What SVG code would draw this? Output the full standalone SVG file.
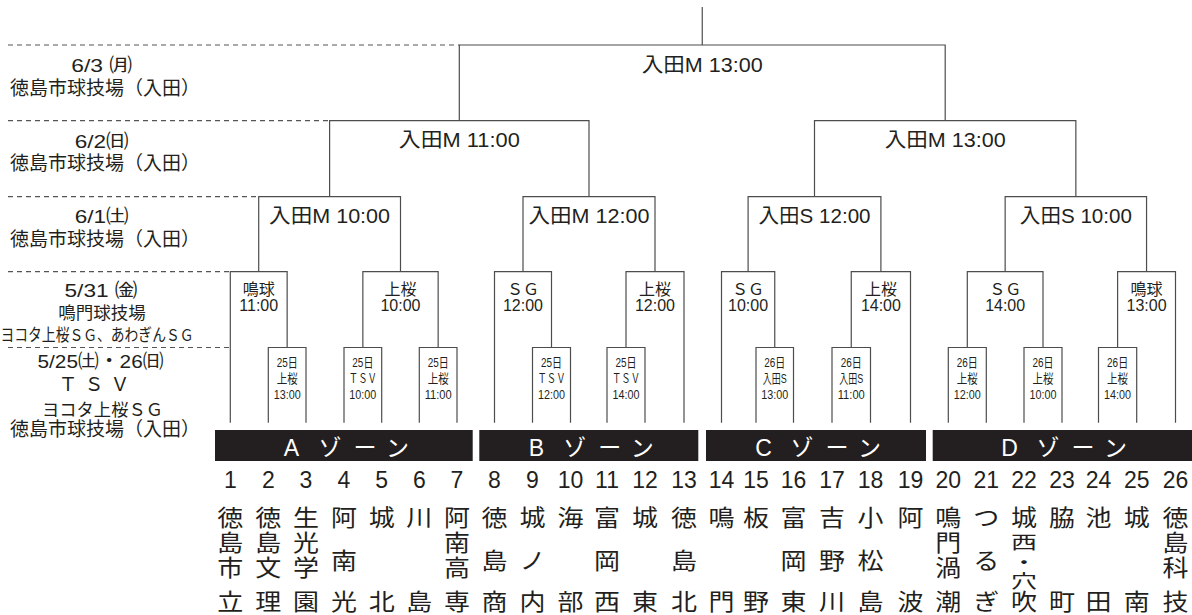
<svg xmlns="http://www.w3.org/2000/svg" width="1192" height="615" viewBox="0 0 1192 615">
<style>
.ln{fill:none;stroke:#4d4d4d;stroke-width:1.2}
.dash{fill:none;stroke:#555;stroke-width:1.2;stroke-dasharray:5 4}
.t{font-family:"Liberation Sans","Noto Sans CJK JP",sans-serif;fill:#231f20;text-anchor:middle}
.s{font-size:13px}
.m{font-size:16px}
.l{font-size:20.5px}
.side{font-size:19px}
.num{font-size:23px}
.zone{fill:#231f20}
.zt{font-family:"Liberation Sans","Noto Sans CJK JP",sans-serif;fill:#fff;font-size:23px;text-anchor:middle}
.nm{font-family:"Noto Sans CJK JP",sans-serif;font-size:26px;fill:#231f20;text-anchor:middle}
</style>
<rect width="1192" height="615" fill="#fff"/>

<g id="guides">
<path class="dash" d="M8,45H459.3M8,120.7H329.6M8,196.7H258.7M8,271.7H230.3M8,347.5H230.3"/>
</g>

<g id="day-labels">
<text class="t side" x="101.7" y="71.5" textLength="61" lengthAdjust="spacingAndGlyphs">6/3 ㈪</text>
<text class="t side" x="10" y="94.5" style="text-anchor:start">徳島市球技場（入田）</text>
<text class="t side" x="101.7" y="148" textLength="54" lengthAdjust="spacingAndGlyphs">6/2㈰</text>
<text class="t side" x="10" y="169.5" style="text-anchor:start">徳島市球技場（入田）</text>
<text class="t side" x="101.7" y="223" textLength="54" lengthAdjust="spacingAndGlyphs">6/1㈯</text>
<text class="t side" x="10" y="246" style="text-anchor:start">徳島市球技場（入田）</text>
<text class="t side" x="101" y="296.5" textLength="73" lengthAdjust="spacingAndGlyphs">5/31 ㈮</text>
<text class="t" x="102" y="319" style="font-size:17.5px">鳴門球技場</text>
<text class="t" x="0.5" y="341" style="font-size:16.5px;text-anchor:start" textLength="193" lengthAdjust="spacingAndGlyphs">ヨコタ上桜ＳＧ、あわぎんＳＧ</text>
<text class="t side" x="100.5" y="367.5" textLength="126" lengthAdjust="spacingAndGlyphs">5/25㈯・26㈰</text>
<text class="t side" x="94" y="391" textLength="71" lengthAdjust="spacing">ＴＳＶ</text>
<text class="t" x="102.5" y="416" style="font-size:17.5px" textLength="121" lengthAdjust="spacingAndGlyphs">ヨコタ上桜ＳＧ</text>
<text class="t side" x="10" y="436" style="text-anchor:start">徳島市球技場（入田）</text>
</g>

<g id="connectors">
<path class="ln" d="M702.25,7V45"/>
<path class="ln" d="M459.3,120.7V45H945.2V120.7"/>
<path class="ln" d="M329.6,196.7V120.7H589V196.7"/>
<path class="ln" d="M814.5,196.7V120.7H1075.85V196.7"/>
<path class="ln" d="M258.7,271.7V196.7H400.5V271.7"/>
<path class="ln" d="M523,271.7V196.7H655V271.7"/>
<path class="ln" d="M748.1,271.7V196.7H880.9V271.7"/>
<path class="ln" d="M1005.15,271.7V196.7H1146.55V271.7"/>
<path class="ln" d="M230.3,422.7V271.7H287.15V347.5"/>
<path class="ln" d="M362.85,347.5V271.7H438.15V347.5"/>
<path class="ln" d="M494.5,422.7V271.7H551.5V347.5"/>
<path class="ln" d="M626,347.5V271.7H684V422.7"/>
<path class="ln" d="M721.5,422.7V271.7H774.75V347.5"/>
<path class="ln" d="M851.25,347.5V271.7H910.5V422.7"/>
<path class="ln" d="M967.3,347.5V271.7H1043V347.5"/>
<path class="ln" d="M1117.6,347.5V271.7H1175.5V422.7"/>
<path class="ln" d="M268.3,422.7V347.5H306V422.7"/>
<path class="ln" d="M344,422.7V347.5H381.7V422.7"/>
<path class="ln" d="M419.3,422.7V347.5H457V422.7"/>
<path class="ln" d="M532.5,422.7V347.5H570.5V422.7"/>
<path class="ln" d="M607,422.7V347.5H645V422.7"/>
<path class="ln" d="M756,422.7V347.5H793.5V422.7"/>
<path class="ln" d="M832,422.7V347.5H870.5V422.7"/>
<path class="ln" d="M948.3,422.7V347.5H986.3V422.7"/>
<path class="ln" d="M1024,422.7V347.5H1062V422.7"/>
<path class="ln" d="M1098.5,422.7V347.5H1136.7V422.7"/>
</g>

<g id="final"><text class="t l" x="702.25" y="71.5" textLength="121" lengthAdjust="spacingAndGlyphs">入田M 13:00</text></g>
<g id="semi-1"><text class="t l" x="459.3" y="146.5" textLength="121" lengthAdjust="spacingAndGlyphs">入田M 11:00</text></g>
<g id="semi-2"><text class="t l" x="945.2" y="146.5" textLength="121" lengthAdjust="spacingAndGlyphs">入田M 13:00</text></g>
<g id="qf-a"><text class="t l" x="329.6" y="223" textLength="121" lengthAdjust="spacingAndGlyphs">入田M 10:00</text></g>
<g id="qf-b"><text class="t l" x="589" y="223" textLength="121" lengthAdjust="spacingAndGlyphs">入田M 12:00</text></g>
<g id="qf-c"><text class="t l" x="814.5" y="223" textLength="112" lengthAdjust="spacingAndGlyphs">入田S 12:00</text></g>
<g id="qf-d"><text class="t l" x="1075.85" y="223" textLength="112" lengthAdjust="spacingAndGlyphs">入田S 10:00</text></g>

<g id="r2-a1"><text class="t m" x="258.7" y="295">鳴球</text><text class="t m" x="258.7" y="311">11:00</text></g>
<g id="r2-a2"><text class="t m" x="400.5" y="295">上桜</text><text class="t m" x="400.5" y="311">10:00</text></g>
<g id="r2-b1"><text class="t m" x="523" y="295">ＳＧ</text><text class="t m" x="523" y="311">12:00</text></g>
<g id="r2-b2"><text class="t m" x="655" y="295">上桜</text><text class="t m" x="655" y="311">12:00</text></g>
<g id="r2-c1"><text class="t m" x="748.1" y="295">ＳＧ</text><text class="t m" x="748.1" y="311">10:00</text></g>
<g id="r2-c2"><text class="t m" x="880.9" y="295">上桜</text><text class="t m" x="880.9" y="311">14:00</text></g>
<g id="r2-d1"><text class="t m" x="1005.15" y="295">ＳＧ</text><text class="t m" x="1005.15" y="311">14:00</text></g>
<g id="r2-d2"><text class="t m" x="1146.55" y="295">鳴球</text><text class="t m" x="1146.55" y="311">13:00</text></g>

<g id="r1-a1"><text class="t s" x="287.15" y="367" textLength="21" lengthAdjust="spacingAndGlyphs">25日</text><text class="t s" x="287.15" y="383" textLength="21" lengthAdjust="spacingAndGlyphs">上桜</text><text class="t s" x="287.15" y="399" textLength="27" lengthAdjust="spacingAndGlyphs">13:00</text></g>
<g id="r1-a2"><text class="t s" x="362.85" y="367" textLength="21" lengthAdjust="spacingAndGlyphs">25日</text><text class="t s" x="362.85" y="383" textLength="28" lengthAdjust="spacingAndGlyphs">ＴＳＶ</text><text class="t s" x="362.85" y="399" textLength="27" lengthAdjust="spacingAndGlyphs">10:00</text></g>
<g id="r1-a3"><text class="t s" x="438.15" y="367" textLength="21" lengthAdjust="spacingAndGlyphs">25日</text><text class="t s" x="438.15" y="383" textLength="21" lengthAdjust="spacingAndGlyphs">上桜</text><text class="t s" x="438.15" y="399" textLength="27" lengthAdjust="spacingAndGlyphs">11:00</text></g>
<g id="r1-b1"><text class="t s" x="551.5" y="367" textLength="21" lengthAdjust="spacingAndGlyphs">25日</text><text class="t s" x="551.5" y="383" textLength="28" lengthAdjust="spacingAndGlyphs">ＴＳＶ</text><text class="t s" x="551.5" y="399" textLength="27" lengthAdjust="spacingAndGlyphs">12:00</text></g>
<g id="r1-b2"><text class="t s" x="626" y="367" textLength="21" lengthAdjust="spacingAndGlyphs">25日</text><text class="t s" x="626" y="383" textLength="28" lengthAdjust="spacingAndGlyphs">ＴＳＶ</text><text class="t s" x="626" y="399" textLength="27" lengthAdjust="spacingAndGlyphs">14:00</text></g>
<g id="r1-c1"><text class="t s" x="774.75" y="367" textLength="21" lengthAdjust="spacingAndGlyphs">26日</text><text class="t s" x="774.75" y="383" textLength="24" lengthAdjust="spacingAndGlyphs">入田S</text><text class="t s" x="774.75" y="399" textLength="27" lengthAdjust="spacingAndGlyphs">13:00</text></g>
<g id="r1-c2"><text class="t s" x="851.25" y="367" textLength="21" lengthAdjust="spacingAndGlyphs">26日</text><text class="t s" x="851.25" y="383" textLength="24" lengthAdjust="spacingAndGlyphs">入田S</text><text class="t s" x="851.25" y="399" textLength="27" lengthAdjust="spacingAndGlyphs">11:00</text></g>
<g id="r1-d1"><text class="t s" x="967.3" y="367" textLength="21" lengthAdjust="spacingAndGlyphs">26日</text><text class="t s" x="967.3" y="383" textLength="21" lengthAdjust="spacingAndGlyphs">上桜</text><text class="t s" x="967.3" y="399" textLength="27" lengthAdjust="spacingAndGlyphs">12:00</text></g>
<g id="r1-d2"><text class="t s" x="1043" y="367" textLength="21" lengthAdjust="spacingAndGlyphs">26日</text><text class="t s" x="1043" y="383" textLength="21" lengthAdjust="spacingAndGlyphs">上桜</text><text class="t s" x="1043" y="399" textLength="27" lengthAdjust="spacingAndGlyphs">10:00</text></g>
<g id="r1-d3"><text class="t s" x="1117.6" y="367" textLength="21" lengthAdjust="spacingAndGlyphs">26日</text><text class="t s" x="1117.6" y="383" textLength="21" lengthAdjust="spacingAndGlyphs">上桜</text><text class="t s" x="1117.6" y="399" textLength="27" lengthAdjust="spacingAndGlyphs">14:00</text></g>

<g id="zone-a"><rect class="zone" x="215" y="430" width="257.7" height="31"/><text class="zt" x="291.5 330 365 397.5" y="456">Aゾーン</text></g>
<g id="zone-b"><rect class="zone" x="479.3" y="430" width="219" height="31"/><text class="zt" x="536.3 574.8 609.8 642.3" y="456">Bゾーン</text></g>
<g id="zone-c"><rect class="zone" x="706" y="430" width="220" height="31"/><text class="zt" x="763.5 802 837 869.5" y="456">Cゾーン</text></g>
<g id="zone-d"><rect class="zone" x="932.7" y="430" width="259.3" height="31"/><text class="zt" x="1009.5 1048 1083 1115.5" y="456">Dゾーン</text></g>

<g id="numbers">
<text class="t num" x="230.3" y="488.3">1</text>
<text class="t num" x="268.3" y="488.3">2</text>
<text class="t num" x="306" y="488.3">3</text>
<text class="t num" x="344" y="488.3">4</text>
<text class="t num" x="381.7" y="488.3">5</text>
<text class="t num" x="419.3" y="488.3">6</text>
<text class="t num" x="457" y="488.3">7</text>
<text class="t num" x="494.5" y="488.3">8</text>
<text class="t num" x="532.5" y="488.3">9</text>
<text class="t num" x="570.5" y="488.3">10</text>
<text class="t num" x="607" y="488.3">11</text>
<text class="t num" x="645" y="488.3">12</text>
<text class="t num" x="684" y="488.3">13</text>
<text class="t num" x="721.5" y="488.3">14</text>
<text class="t num" x="756" y="488.3">15</text>
<text class="t num" x="793.5" y="488.3">16</text>
<text class="t num" x="832" y="488.3">17</text>
<text class="t num" x="870.5" y="488.3">18</text>
<text class="t num" x="910.5" y="488.3">19</text>
<text class="t num" x="948.3" y="488.3">20</text>
<text class="t num" x="986.3" y="488.3">21</text>
<text class="t num" x="1024" y="488.3">22</text>
<text class="t num" x="1062" y="488.3">23</text>
<text class="t num" x="1098.5" y="488.3">24</text>
<text class="t num" x="1136.7" y="488.3">25</text>
<text class="t num" x="1175.5" y="488.3">26</text>
</g>

<g id="teams" transform="scale(1,0.88)">
<g id="team-1"><text class="nm" x="230.3" y="597.2">徳</text><text class="nm" x="230.3" y="626.1">島</text><text class="nm" x="230.3" y="654.5">市</text><text class="nm" x="230.3" y="693.2">立</text></g>
<g id="team-2"><text class="nm" x="268.3" y="597.2">徳</text><text class="nm" x="268.3" y="626.1">島</text><text class="nm" x="268.3" y="654.5">文</text><text class="nm" x="268.3" y="693.2">理</text></g>
<g id="team-3"><text class="nm" x="306" y="597.2">生</text><text class="nm" x="306" y="626.1">光</text><text class="nm" x="306" y="654.5">学</text><text class="nm" x="306" y="693.2">園</text></g>
<g id="team-4"><text class="nm" x="344" y="597.2">阿</text><text class="nm" x="344" y="646.6">南</text><text class="nm" x="344" y="693.2">光</text></g>
<g id="team-5"><text class="nm" x="381.7" y="597.2">城</text><text class="nm" x="381.7" y="693.2">北</text></g>
<g id="team-6"><text class="nm" x="419.3" y="597.2">川</text><text class="nm" x="419.3" y="693.2">島</text></g>
<g id="team-7"><text class="nm" x="457" y="597.2">阿</text><text class="nm" x="457" y="626.1">南</text><text class="nm" x="457" y="654.5">高</text><text class="nm" x="457" y="693.2">専</text></g>
<g id="team-8"><text class="nm" x="494.5" y="597.2">徳</text><text class="nm" x="494.5" y="646.6">島</text><text class="nm" x="494.5" y="693.2">商</text></g>
<g id="team-9"><text class="nm" x="532.5" y="597.2">城</text><text class="nm" x="532.5" y="646.6">ノ</text><text class="nm" x="532.5" y="693.2">内</text></g>
<g id="team-10"><text class="nm" x="570.5" y="597.2">海</text><text class="nm" x="570.5" y="693.2">部</text></g>
<g id="team-11"><text class="nm" x="607" y="597.2">富</text><text class="nm" x="607" y="646.6">岡</text><text class="nm" x="607" y="693.2">西</text></g>
<g id="team-12"><text class="nm" x="645" y="597.2">城</text><text class="nm" x="645" y="693.2">東</text></g>
<g id="team-13"><text class="nm" x="684" y="597.2">徳</text><text class="nm" x="684" y="646.6">島</text><text class="nm" x="684" y="693.2">北</text></g>
<g id="team-14"><text class="nm" x="721.5" y="597.2">鳴</text><text class="nm" x="721.5" y="693.2">門</text></g>
<g id="team-15"><text class="nm" x="756" y="597.2">板</text><text class="nm" x="756" y="693.2">野</text></g>
<g id="team-16"><text class="nm" x="793.5" y="597.2">富</text><text class="nm" x="793.5" y="646.6">岡</text><text class="nm" x="793.5" y="693.2">東</text></g>
<g id="team-17"><text class="nm" x="832" y="597.2">吉</text><text class="nm" x="832" y="646.6">野</text><text class="nm" x="832" y="693.2">川</text></g>
<g id="team-18"><text class="nm" x="870.5" y="597.2">小</text><text class="nm" x="870.5" y="646.6">松</text><text class="nm" x="870.5" y="693.2">島</text></g>
<g id="team-19"><text class="nm" x="910.5" y="597.2">阿</text><text class="nm" x="910.5" y="693.2">波</text></g>
<g id="team-20"><text class="nm" x="948.3" y="597.2">鳴</text><text class="nm" x="948.3" y="626.1">門</text><text class="nm" x="948.3" y="654.5">渦</text><text class="nm" x="948.3" y="693.2">潮</text></g>
<g id="team-21"><text class="nm" x="986.3" y="597.2">つ</text><text class="nm" x="986.3" y="646.6">る</text><text class="nm" x="986.3" y="693.2">ぎ</text></g>
<g id="team-22"><text class="nm" x="1024" y="597.2">城</text><text class="nm" transform="translate(1024,623.9) scale(1,0.8)" x="0" y="0">西</text><text class="nm" transform="translate(1024,646.6) scale(1,0.8)" x="0" y="0">・</text><text class="nm" transform="translate(1024,668.2) scale(1,0.8)" x="0" y="0">穴</text><text class="nm" x="1024" y="693.2">吹</text></g>
<g id="team-23"><text class="nm" x="1062" y="597.2">脇</text><text class="nm" x="1062" y="693.2">町</text></g>
<g id="team-24"><text class="nm" x="1098.5" y="597.2">池</text><text class="nm" x="1098.5" y="693.2">田</text></g>
<g id="team-25"><text class="nm" x="1136.7" y="597.2">城</text><text class="nm" x="1136.7" y="693.2">南</text></g>
<g id="team-26"><text class="nm" x="1175.5" y="597.2">徳</text><text class="nm" x="1175.5" y="626.1">島</text><text class="nm" x="1175.5" y="654.5">科</text><text class="nm" x="1175.5" y="693.2">技</text></g>
</g>
</svg>
